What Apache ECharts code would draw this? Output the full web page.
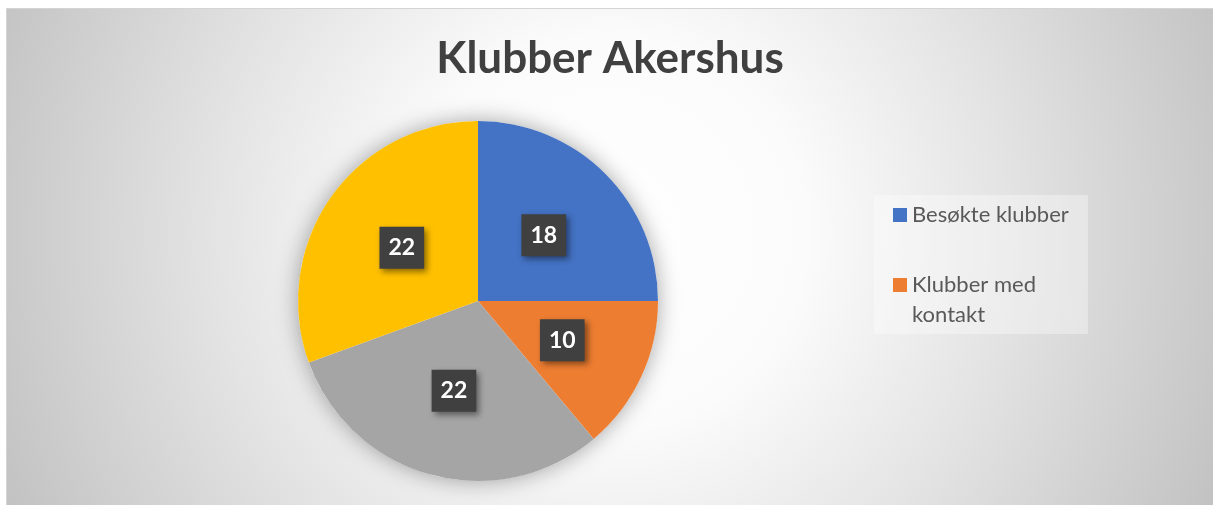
<!DOCTYPE html>
<html>
    <head>
        <meta charset="utf-8">
    </head>
    <body style="margin: 0; background: #ffffff;">
        <div id="container" style="position: absolute; left: 6px; top: 8px; width: 1206px; height: 496px; border-top: 1px solid #d4d4d4; border-left: 1px solid #d4d4d4;"></div>

        <script type="text/javascript" src="https://cdn.jsdelivr.net/npm/echarts@6/dist/echarts.min.js"></script>
        <script type="text/javascript">
var dom = document.getElementById("container");
var myChart = echarts.init(dom);

var categories = ['Besøkte klubber', 'Klubber med kontakt', 'Serie 3', 'Serie 4'];
var values = [18, 10, 22, 22];
var colors = ['#4472c4', '#ed7d31', '#a5a5a5', '#ffc000'];
var legendNames = ['Besøkte klubber', 'Klubber med kontakt'];

var pieData = values.map(function (v, i) {
    return {value: v, name: categories[i], itemStyle: {color: colors[i]}};
});

var option = {
    backgroundColor: {
        type: 'radial',
        x: 0.5, y: 0.45, r: 1.32,
        colorStops: [
            {offset: 0, color: '#ffffff'},
            {offset: 0.3, color: '#fbfbfb'},
            {offset: 0.6, color: '#e4e4e4'},
            {offset: 1, color: '#c3c3c3'}
        ]
    },
    animation: false,
    title: {
        text: 'Klubber Akershus',
        left: 'center',
        top: 28,
        padding: 0,
        textStyle: {
            fontFamily: 'Lato',
            fontWeight: 'bold',
            fontSize: 44,
            color: '#404040'
        }
    },
    legend: {
        orient: 'vertical',
        left: 867,
        top: 186,
        padding: [5, 4, 4, 19],
        itemGap: 10,
        itemWidth: 14,
        itemHeight: 14,
        icon: 'rect',
        backgroundColor: 'rgba(255,255,255,0.35)',
        textStyle: {
            fontFamily: 'Lato',
            fontSize: 22,
            color: '#595959',
            lineHeight: 30,
            width: 172,
            overflow: 'break'
        },
        // tom første linje, så "Klubber med" står på høyde med ikonet
        formatter: function (name) {
            return name === legendNames[1] ? '\n' + name : name;
        },
        data: legendNames
    },
    series: [
        {
            name: 'skygge',
            type: 'pie',
            silent: true,
            radius: 180,
            center: [471, 292],
            label: {show: false},
            itemStyle: {
                color: '#ffffff',
                shadowBlur: 22,
                shadowColor: 'rgba(0,0,0,0.35)'
            },
            z: 1,
            data: [{value: 1, name: ''}]
        },
        {
            name: 'Klubber',
            type: 'pie',
            radius: 180,
            center: [471, 292],
            startAngle: 90,
            clockwise: true,
            z: 2,
            label: {
                show: true,
                position: 'inside',
                formatter: '{c}',
                fontFamily: 'Lato',
                fontWeight: 'bold',
                fontSize: 23,
                color: '#ffffff',
                backgroundColor: '#404040',
                padding: [10, 9, 9, 9],
                shadowColor: 'rgba(0,0,0,0.45)',
                shadowBlur: 6,
                shadowOffsetX: 3,
                shadowOffsetY: 3
            },
            labelLine: {show: false},
            data: pieData
        }
    ]
};

myChart.setOption(option);
        </script>
    </body>
</html>
